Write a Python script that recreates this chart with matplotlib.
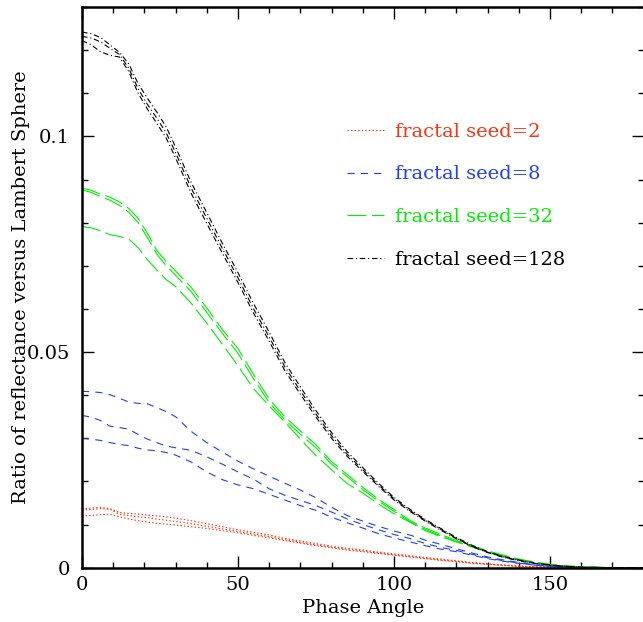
import numpy as np
import matplotlib
matplotlib.use('Agg')
import matplotlib.pyplot as plt
from matplotlib.ticker import MultipleLocator

# ---------------------------
# Datos
# ---------------------------
phase = [0, 3, 6, 9, 12, 15, 18, 21, 24, 27, 30, 35, 40, 45, 50, 55, 60, 65, 70,
         75, 80, 85, 90, 95, 100, 105, 110, 115, 120, 125, 130, 135, 140, 145,
         150, 155, 160, 170, 180]

seed2_a = [0.0137, 0.0138, 0.0140, 0.0137, 0.0128, 0.0126, 0.0124, 0.0122, 0.0120, 0.0118,
           0.0115, 0.0109, 0.0102, 0.0095, 0.0088, 0.0082, 0.0076, 0.0068, 0.0062, 0.0056,
           0.0050, 0.0045, 0.0041, 0.0036, 0.0032, 0.0028, 0.0024, 0.0020, 0.0016, 0.0012,
           0.0009, 0.0006, 0.0004, 0.0002, 0.0001, 0.0001, 0.0, 0.0, 0.0]
seed2_b = [0.0134, 0.0135, 0.0137, 0.0135, 0.0124, 0.0121, 0.0118, 0.0116, 0.0113, 0.0110,
           0.0107, 0.0102, 0.0096, 0.0090, 0.0084, 0.0078, 0.0072, 0.0065, 0.0059, 0.0053,
           0.0048, 0.0043, 0.0039, 0.0034, 0.0030, 0.0026, 0.0022, 0.0018, 0.0015, 0.0011,
           0.0008, 0.0006, 0.0003, 0.0002, 0.0001, 0.0, 0.0, 0.0, 0.0]
seed2_c = [0.0120, 0.0121, 0.0123, 0.0124, 0.0118, 0.0113, 0.0109, 0.0106, 0.0103, 0.0101,
           0.0099, 0.0095, 0.0091, 0.0086, 0.0081, 0.0075, 0.0069, 0.0063, 0.0057, 0.0051,
           0.0046, 0.0041, 0.0037, 0.0033, 0.0029, 0.0025, 0.0021, 0.0017, 0.0014, 0.0010,
           0.0008, 0.0005, 0.0003, 0.0002, 0.0001, 0.0, 0.0, 0.0, 0.0]

seed8_a = [0.0409, 0.0408, 0.0406, 0.0401, 0.0393, 0.0384, 0.0381, 0.0380, 0.0371, 0.0362,
           0.0350, 0.0316, 0.0290, 0.0268, 0.0247, 0.0229, 0.0212, 0.0196, 0.0180, 0.0162,
           0.0140, 0.0121, 0.0108, 0.0096, 0.0085, 0.0076, 0.0064, 0.0054, 0.0044, 0.0034,
           0.0025, 0.0018, 0.0012, 0.0007, 0.0004, 0.0002, 0.0001, 0.0, 0.0]
seed8_b = [0.0353, 0.0349, 0.0341, 0.0328, 0.0325, 0.0321, 0.0309, 0.0298, 0.0290, 0.0282,
           0.0278, 0.0272, 0.0257, 0.0240, 0.0222, 0.0205, 0.0183, 0.0168, 0.0156, 0.0144,
           0.0129, 0.0113, 0.0100, 0.0088, 0.0077, 0.0068, 0.0056, 0.0047, 0.0040, 0.0031,
           0.0023, 0.0016, 0.0011, 0.0006, 0.0003, 0.0002, 0.0001, 0.0, 0.0]
seed8_c = [0.0300, 0.0298, 0.0295, 0.0290, 0.0286, 0.0283, 0.0277, 0.0273, 0.0271, 0.0267,
           0.0261, 0.0245, 0.0222, 0.0204, 0.0192, 0.0183, 0.0170, 0.0157, 0.0144, 0.0133,
           0.0117, 0.0104, 0.0092, 0.0079, 0.0069, 0.0060, 0.0051, 0.0043, 0.0037, 0.0029,
           0.0021, 0.0015, 0.0010, 0.0006, 0.0003, 0.0002, 0.0001, 0.0, 0.0]

seed32_a = [0.0880, 0.0875, 0.0866, 0.0859, 0.0848, 0.0833, 0.0810, 0.0775, 0.0735, 0.0710,
            0.0688, 0.0650, 0.0602, 0.0552, 0.0508, 0.0448, 0.0391, 0.0350, 0.0317, 0.0285,
            0.0246, 0.0216, 0.0186, 0.0159, 0.0135, 0.0110, 0.0092, 0.0077, 0.0063, 0.0051,
            0.0039, 0.0029, 0.0020, 0.0013, 0.0008, 0.0004, 0.0002, 0.0, 0.0]
seed32_b = [0.0876, 0.0870, 0.0860, 0.0852, 0.0840, 0.0824, 0.0800, 0.0765, 0.0727, 0.0700,
            0.0678, 0.0640, 0.0592, 0.0543, 0.0497, 0.0438, 0.0383, 0.0343, 0.0309, 0.0278,
            0.0240, 0.0211, 0.0181, 0.0155, 0.0131, 0.0107, 0.0089, 0.0074, 0.0060, 0.0049,
            0.0038, 0.0028, 0.0019, 0.0012, 0.0007, 0.0004, 0.0002, 0.0, 0.0]
seed32_c = [0.0791, 0.0788, 0.0781, 0.0772, 0.0768, 0.0762, 0.0742, 0.0714, 0.0690, 0.0668,
            0.0652, 0.0613, 0.0567, 0.0518, 0.0468, 0.0415, 0.0375, 0.0338, 0.0298, 0.0260,
            0.0227, 0.0195, 0.0173, 0.0148, 0.0125, 0.0106, 0.0086, 0.0072, 0.0060, 0.0048,
            0.0037, 0.0027, 0.0019, 0.0012, 0.0007, 0.0004, 0.0002, 0.0, 0.0]

seed128_a = [0.1242, 0.1238, 0.1229, 0.1212, 0.1195, 0.1168, 0.1122, 0.1088, 0.1056, 0.1022,
             0.0975, 0.0893, 0.0823, 0.0752, 0.0684, 0.0612, 0.0546, 0.0476, 0.0419, 0.0364,
             0.0313, 0.0269, 0.0232, 0.0196, 0.0163, 0.0136, 0.0112, 0.0091, 0.0070, 0.0052,
             0.0037, 0.0026, 0.0018, 0.0011, 0.0006, 0.0003, 0.0001, 0.0, 0.0]
seed128_b = [0.1232, 0.1228, 0.1219, 0.1204, 0.1190, 0.1158, 0.1110, 0.1074, 0.1042, 0.1008,
             0.0962, 0.0880, 0.0810, 0.0740, 0.0672, 0.0600, 0.0535, 0.0466, 0.0410, 0.0356,
             0.0306, 0.0263, 0.0227, 0.0192, 0.0160, 0.0133, 0.0110, 0.0089, 0.0068, 0.0050,
             0.0036, 0.0025, 0.0017, 0.0010, 0.0006, 0.0003, 0.0001, 0.0, 0.0]
seed128_c = [0.1222, 0.1212, 0.1196, 0.1188, 0.1184, 0.1150, 0.1100, 0.1063, 0.1030, 0.0996,
             0.0950, 0.0868, 0.0798, 0.0729, 0.0661, 0.0590, 0.0525, 0.0457, 0.0402, 0.0349,
             0.0300, 0.0258, 0.0223, 0.0189, 0.0157, 0.0131, 0.0108, 0.0087, 0.0067, 0.0049,
             0.0035, 0.0024, 0.0016, 0.0010, 0.0006, 0.0003, 0.0001, 0.0, 0.0]

labels = ['fractal seed=2', 'fractal seed=8', 'fractal seed=32', 'fractal seed=128']

# ---------------------------
# Estilo
# ---------------------------
plt.rcParams['font.family'] = 'DejaVu Serif'
fs = 14
lw = 0.8
grupos = [
    ([seed2_a, seed2_b, seed2_c], '#ff3311', (0, (1.3, 1.9))),
    ([seed8_a, seed8_b, seed8_c], '#1f3fff', (0, (6.5, 5.5))),
    ([seed32_a, seed32_b, seed32_c], '#00ee00', (0, (17, 5))),
    ([seed128_a, seed128_b, seed128_c], 'black', (0, (5, 2.5, 1, 2.5))),
]

fig = plt.figure(figsize=(6.43, 6.22), dpi=100)
ax = fig.add_axes([82 / 643, 54.3 / 622, 561.6 / 643, 560.7 / 622])

handles = []
for curvas, color, ls in grupos:
    for k, y in enumerate(curvas):
        ln, = ax.plot(phase, y, color=color, lw=lw, linestyle=ls)
        if k == 0:
            handles.append(ln)

ax.set_xlim(0, 180)
ax.set_ylim(0, 0.13)
ax.xaxis.set_major_locator(MultipleLocator(50))
ax.xaxis.set_minor_locator(MultipleLocator(10))
ax.yaxis.set_major_locator(MultipleLocator(0.05))
ax.yaxis.set_minor_locator(MultipleLocator(0.01))
ax.set_yticks([0, 0.05, 0.1])
ax.set_yticklabels(['0', '0.05', '0.1'])

ax.tick_params(which='both', direction='in', top=True, right=True, labelsize=fs)
ax.tick_params(which='major', length=8.6, width=1.0)
ax.tick_params(which='minor', length=4.5, width=1.0)
ax.tick_params(axis='x', pad=6.3)
ax.tick_params(axis='y', pad=8.6)
for s in ax.spines.values():
    s.set_linewidth(1.8)

ax.set_xlabel('Phase Angle', fontsize=fs)
ax.set_ylabel('Ratio of reflectance versus Lambert Sphere', fontsize=fs)
ax.xaxis.set_label_coords(0.5, -0.056)
ax.yaxis.set_label_coords(-0.092, 0.5)

ax.legend(handles, labels, loc='upper left', bbox_to_anchor=(0.472, 0.794),
          frameon=False, fontsize=fs, labelcolor='linecolor', borderpad=0,
          borderaxespad=0, handlelength=1.9, handletextpad=0.55, labelspacing=1.28)

fig.savefig('out.png', dpi=100)
